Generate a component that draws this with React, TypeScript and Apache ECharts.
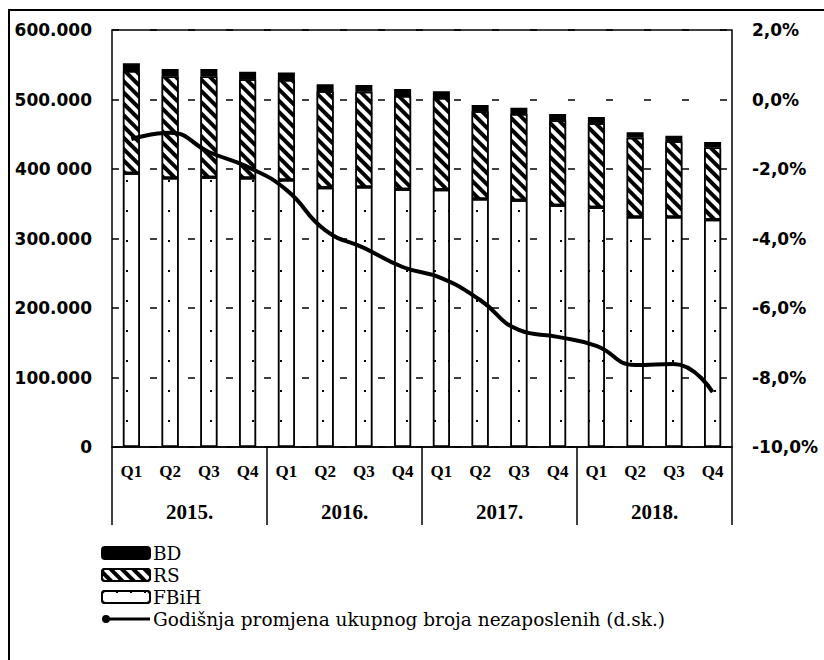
import React, { useEffect, useRef } from "react";
import * as echarts from "echarts";

const quarters = ["Q1", "Q2", "Q3", "Q4", "Q1", "Q2", "Q3", "Q4", "Q1", "Q2", "Q3", "Q4", "Q1", "Q2", "Q3", "Q4"];
const years = ["2015.", "2016.", "2017.", "2018."];
const fbih = [394000, 387000, 388000, 387000, 384000, 373000, 374000, 371000, 370000, 357000, 355000, 348000, 345000, 331000, 331000, 327000];
const rs = [147000, 146000, 145000, 142000, 144000, 139000, 137000, 134000, 132000, 126000, 124000, 122000, 121000, 114000, 109000, 104000];
const bd = [11000, 11000, 11000, 11000, 11000, 10000, 10000, 10000, 10000, 9000, 9000, 9000, 9000, 8000, 8000, 8000];
const annualChange = [-1.14, -0.96, -1.51, -1.94, -2.6, -3.76, -4.27, -4.82, -5.14, -5.77, -6.63, -6.83, -7.09, -7.64, -7.61, -8.42];
const leftLabels = ["0", "100.000", "200.000", "300.000", "400 000", "500.000", "600.000"];
const rightLabels = ["-10,0%", "-8,0%", "-6,0%", "-4,0%", "-2,0%", "0,0%", "2,0%"];
const lineName = "Godišnja promjena ukupnog broja nezaposlenih (d.sk.)";

export default function App() {
  const ref = useRef<HTMLDivElement>(null);
  useEffect(() => {
    document.body.style.margin = "0";
    const chart = echarts.init(ref.current!, undefined, { renderer: "svg" });
    const axisFont = { fontFamily: "DejaVu Sans", color: "#000", fontWeight: "bold" };
    const catFont = { fontFamily: "Liberation Serif", color: "#000", fontWeight: "bold" };
    chart.setOption({
      animation: false,
      backgroundColor: "#fff",
      grid: {
        left: 112,
        right: 92,
        top: 30,
        bottom: 213,
        show: true,
        borderColor: "#000",
        borderWidth: 1.5,
      },
      legend: {
        orient: "vertical",
        left: 96,
        top: 537,
        itemWidth: 48,
        itemHeight: 12,
        itemGap: 0,
        data: [
          "BD",
          "RS",
          "FBiH",
          { name: lineName, icon: "path://M0,6 A4,4 0 1,1 8,6 A4,4 0 1,1 0,6 Z M4,4.5 L48,4.5 L48,7.5 L4,7.5 Z" },
        ],
        textStyle: { fontFamily: "DejaVu Serif", fontSize: 18.5, color: "#000", lineHeight: 22, padding: [0, 0, 0, -2] },
      },
      xAxis: [
        {
          type: "category",
          data: quarters,
          axisLine: { show: true, onZero: false, lineStyle: { color: "#000", width: 1.5 } },
          axisTick: { show: false },
          axisLabel: { ...catFont, fontSize: 17, margin: 16, interval: 0 },
        },
        {
          type: "category",
          data: years,
          position: "bottom",
          axisLine: { show: false, onZero: false },
          axisTick: { show: true, interval: 0, length: 78, lineStyle: { color: "#000", width: 1.5 } },
          axisLabel: { ...catFont, fontSize: 21, margin: 54, interval: 0 },
        },
      ],
      yAxis: [
        {
          type: "value",
          min: 0,
          max: 600000,
          interval: 100000,
          axisLine: { show: false },
          axisTick: { show: false },
          splitLine: { show: true, lineStyle: { color: "#000", width: 1.5, type: [7, 31] } },
          axisLabel: { ...axisFont, fontSize: 17, margin: 20, formatter: (v: number) => leftLabels[Math.round(v / 100000)] },
        },
        {
          type: "value",
          min: -10,
          max: 2,
          interval: 2,
          axisLine: { show: false },
          axisTick: { show: false },
          splitLine: { show: false },
          axisLabel: { ...axisFont, fontSize: 17, margin: 20, formatter: (v: number) => rightLabels[Math.round((v + 10) / 2)] },
        },
      ],
      series: [
        {
          name: "FBiH",
          type: "bar",
          stack: "total",
          barWidth: 17,
          data: fbih,
          itemStyle: {
            color: "#fff",
            borderColor: "#000",
            borderWidth: 1.5,
            decal: { symbol: "rect", symbolSize: 1, dashArrayX: [2, 12], dashArrayY: [2, 28], color: "#000" },
          },
        },
        {
          name: "RS",
          type: "bar",
          stack: "total",
          barWidth: 17,
          data: rs,
          itemStyle: {
            color: "#fff",
            borderColor: "#000",
            borderWidth: 1.5,
            decal: { symbol: "rect", symbolSize: 1, dashArrayX: [1, 0], dashArrayY: [4, 4], rotation: Math.PI / 4, color: "#000" },
          },
        },
        {
          name: "BD",
          type: "bar",
          stack: "total",
          barWidth: 17,
          data: bd,
          itemStyle: { color: "#000", borderColor: "#000", borderWidth: 1.5 },
        },
        {
          name: lineName,
          type: "line",
          yAxisIndex: 1,
          smooth: true,
          symbol: "none",
          data: annualChange,
          lineStyle: { color: "#000", width: 4 },
          itemStyle: { color: "#000" },
        },
      ],
      graphic: [
        {
          type: "rect",
          shape: { x: 9, y: 10, width: 900, height: 700 },
          style: { fill: "none", stroke: "#000", lineWidth: 2 },
          silent: true,
        },
      ],
    });
    return () => chart.dispose();
  }, []);
  return <div ref={ref} style={{ width: 824, height: 660 }} />;
}
